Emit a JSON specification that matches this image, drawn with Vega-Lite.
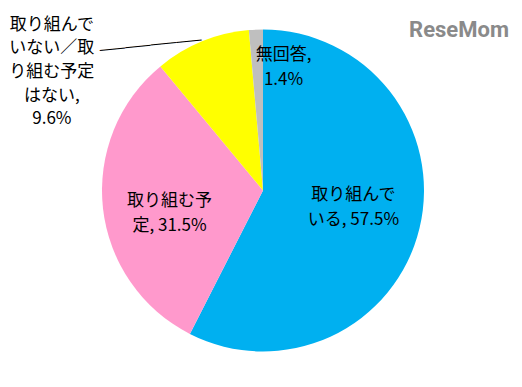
{
  "$schema": "https://vega.github.io/schema/vega-lite/v6.json",
  "width": 518,
  "height": 311,
  "autosize": {"type": "none"},
  "padding": {"left": 4, "top": 35, "right": 0, "bottom": 41},
  "background": "white",
  "title": {"text": "ReseMom", "anchor": "end", "frame": "group", "dx": -13, "dy": 38, "offset": 0, "font": "Roboto", "fontSize": 22, "fontWeight": "bold", "color": "#8a8a8a"},
  "config": {"view": {"stroke": null}},
  "data": {
    "values": [
      {"idx": 1, "cat": "取り組んでいる", "value": 57.5, "label": "取り組んで\nいる, 57.5%"},
      {"idx": 2, "cat": "取り組む予定", "value": 31.5, "label": "取り組む予\n定, 31.5%"},
      {"idx": 3, "cat": "取り組んでいない／取り組む予定はない", "value": 9.6, "label": "取り組んで\nいない／取\nり組む予定\nはない,\n9.6%"},
      {"idx": 4, "cat": "無回答", "value": 1.4, "label": "無回答,\n1.4%"}
    ]
  },
  "encoding": {
    "theta": {"field": "value", "type": "quantitative", "stack": true},
    "order": {"field": "idx", "type": "quantitative"}
  },
  "layer": [
    {
      "mark": {"type": "arc", "outerRadius": 161},
      "encoding": {
        "color": {
          "field": "cat", "type": "nominal",
          "scale": {"domain": ["取り組んでいる", "取り組む予定", "取り組んでいない／取り組む予定はない", "無回答"], "range": ["#00B0F0", "#FF99CC", "#FFFF00", "#BFBFBF"]},
          "legend": null
        }
      }
    },
    {
      "mark": {"type": "text", "radius": 93, "dy": -17, "align": "center", "baseline": "middle", "lineBreak": "\n", "lineHeight": 25, "font": "Noto Sans CJK JP", "fontSize": 17, "color": "#000000"},
      "encoding": {"text": {"condition": {"test": "datum.idx === 1", "field": "label"}, "value": ""}}
    },
    {
      "mark": {"type": "text", "radius": 94, "dy": 0, "align": "center", "baseline": "middle", "lineBreak": "\n", "lineHeight": 25, "font": "Noto Sans CJK JP", "fontSize": 17, "color": "#000000"},
      "encoding": {"text": {"condition": {"test": "datum.idx === 2", "field": "label"}, "value": ""}}
    },
    {
      "mark": {"type": "text", "radius": 161, "dx": -150, "dy": -17, "align": "center", "baseline": "middle", "lineBreak": "\n", "lineHeight": 23.7, "font": "Noto Sans CJK JP", "fontSize": 17, "color": "#000000"},
      "encoding": {"text": {"condition": {"test": "datum.idx === 3", "field": "label"}, "value": ""}}
    },
    {
      "mark": {"type": "text", "radius": 124, "dx": 26, "dy": -12, "align": "center", "baseline": "middle", "lineBreak": "\n", "lineHeight": 25, "font": "Noto Sans CJK JP", "fontSize": 17, "color": "#000000"},
      "encoding": {"text": {"condition": {"test": "datum.idx === 4", "field": "label"}, "value": ""}}
    },
    {
      "mark": {"type": "text", "radius": 161, "align": "right", "baseline": "middle", "angle": -6, "font": "Noto Sans CJK JP", "fontSize": 25.6, "color": "#000000"},
      "encoding": {"text": {"condition": {"test": "datum.idx === 3", "value": "────"}, "value": ""}}
    }
  ]
}
